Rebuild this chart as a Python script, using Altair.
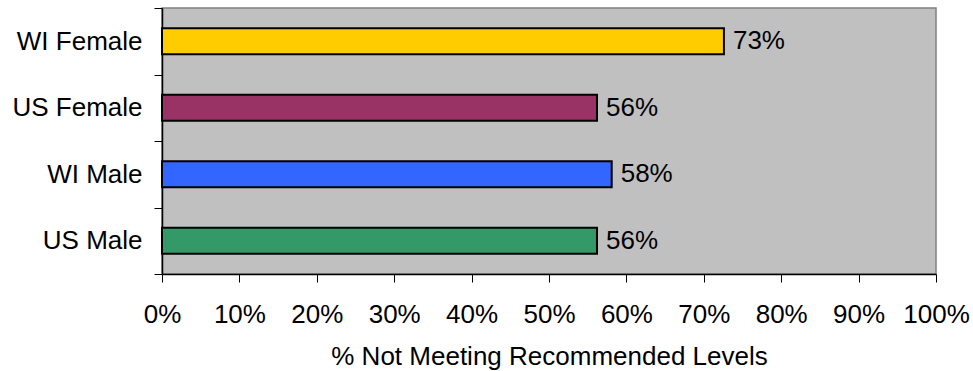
import altair as alt
import pandas as pd

groups = ["WI Female", "US Female", "WI Male", "US Male"]
values = [0.726, 0.562, 0.581, 0.562]
labels = ["73%", "56%", "58%", "56%"]
colors = ["#FFCC00", "#993366", "#3366FF", "#339966"]
x_ticks = [i / 10 for i in range(11)]

df = pd.DataFrame({"group": groups, "value": values, "label": labels})

FONT = "Liberation Sans"
FS = 26

y_enc = alt.Y(
    "group:N",
    sort=groups,
    scale=alt.Scale(paddingInner=0, paddingOuter=0),
    axis=alt.Axis(
        title=None,
        tickBand="extent",
        tickSize=8,
        labelPadding=12,
        labelFontSize=FS,
        labelFont=FONT,
        labelColor="#000000",
        domainColor="#000000",
        tickColor="#000000",
        domainWidth=1.5,
    ),
)

x_enc = alt.X(
    "value:Q",
    scale=alt.Scale(domain=[0, 1], nice=False, zero=True),
    axis=alt.Axis(
        values=x_ticks,
        format=".0%",
        title="% Not Meeting Recommended Levels",
        titleFont=FONT,
        titleFontSize=FS,
        titleFontWeight="normal",
        titleColor="#000000",
        titlePadding=16,
        labelFont=FONT,
        labelFontSize=FS,
        labelColor="#000000",
        labelPadding=19,
        tickSize=8,
        tickColor="#000000",
        domainColor="#000000",
        domainWidth=1.5,
        grid=False,
        labelFlush=False,
    ),
)

bars = alt.Chart(df).mark_bar(
    height=alt.RelativeBandSize(0.39), stroke="#000000", strokeWidth=2
).encode(
    x=x_enc,
    y=y_enc,
    color=alt.Color("group:N", scale=alt.Scale(domain=groups, range=colors), legend=None),
)

text = alt.Chart(df).mark_text(
    align="left", baseline="middle", dx=9, fontSize=FS, font=FONT, color="#000000"
).encode(
    x=alt.X("value:Q"),
    y=alt.Y("group:N", sort=groups),
    text="label:N",
)

chart = (
    alt.layer(bars, text)
    .properties(
        width=774,
        height=266,
        autosize=alt.AutoSizeParams(type="none"),
        padding={"left": 162, "top": 8, "right": 37, "bottom": 97},
        background="#FFFFFF",
    )
    .configure_view(fill="#C0C0C0", stroke="#808080", strokeWidth=1.5)
)

chart.save("out.html", embed_options={"renderer": "svg", "actions": False})
